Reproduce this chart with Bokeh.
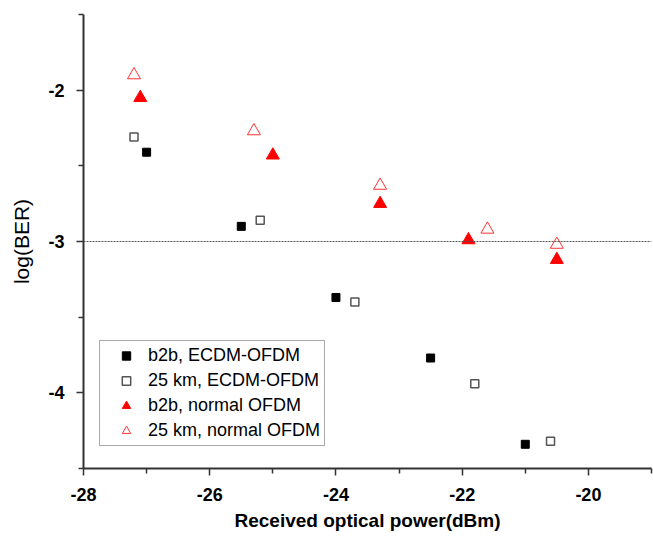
from bokeh.plotting import figure
from bokeh.models import Span, FixedTicker, Range1d, Legend, LegendItem
from bokeh.embed import file_html
from bokeh.resources import INLINE

# Data
x_b2b_ecdm = [-27.0, -25.5, -24.0, -22.5, -21.0]
y_b2b_ecdm = [-2.41, -2.90, -3.37, -3.77, -4.34]
x_25_ecdm = [-27.2, -25.2, -23.7, -21.8, -20.6]
y_25_ecdm = [-2.31, -2.86, -3.40, -3.94, -4.32]
x_b2b_norm = [-27.1, -25.0, -23.3, -21.9, -20.5]
y_b2b_norm = [-2.05, -2.43, -2.75, -2.99, -3.12]
x_25_norm = [-27.2, -25.3, -23.3, -21.6, -20.5]
y_25_norm = [-1.90, -2.27, -2.63, -2.92, -3.02]

labels = ["b2b, ECDM-OFDM", "25 km, ECDM-OFDM", "b2b, normal OFDM", "25 km, normal OFDM"]
x_ticks = [-28, -26, -24, -22, -20]
x_minor = [-27, -25, -23, -21, -19]
y_ticks = [-4, -3, -2]
y_minor = [-4.5, -3.5, -2.5, -1.5]
threshold = -3

p = figure(width=653, height=537, output_backend="svg", toolbar_location=None,
           x_range=Range1d(-28, -19), y_range=Range1d(-4.5, -1.5),
           min_border_left=83, min_border_top=14, min_border_right=2, min_border_bottom=69)
p.outline_line_color = None
p.grid.visible = False
p.background_fill_color = "white"
p.border_fill_color = "white"

p.xaxis.ticker = FixedTicker(ticks=x_ticks, minor_ticks=x_minor)
p.yaxis.ticker = FixedTicker(ticks=y_ticks, minor_ticks=y_minor)
p.xaxis.major_label_overrides = {t: str(t) for t in x_ticks}
p.yaxis.major_label_overrides = {t: str(t) for t in y_ticks}

for ax in (p.xaxis, p.yaxis):
    ax.axis_line_color = "#333333"
    ax.axis_line_width = 2
    ax.major_tick_line_color = "#333333"
    ax.minor_tick_line_color = "#333333"
    ax.major_tick_line_width = 1.5
    ax.minor_tick_line_width = 1.5
    ax.major_tick_out = 7
    ax.major_tick_in = 0
    ax.minor_tick_out = 5
    ax.minor_tick_in = 0
    ax.major_label_text_font = "Liberation Sans"
    ax.major_label_text_font_style = "bold"
    ax.major_label_text_font_size = "18px"
    ax.major_label_text_color = "black"
    ax.axis_label_text_font = "Liberation Sans"
    ax.axis_label_text_color = "black"

p.xaxis.major_label_standoff = 12
p.yaxis.major_label_standoff = 12
p.xaxis.axis_label = "Received optical power(dBm)"
p.xaxis.axis_label_text_font_style = "bold"
p.xaxis.axis_label_text_font_size = "19px"
p.xaxis.axis_label_standoff = 6
p.yaxis.axis_label = "log(BER)"
p.yaxis.axis_label_text_font_style = "normal"
p.yaxis.axis_label_text_font_size = "21px"
p.yaxis.axis_label_standoff = 12

p.add_layout(Span(location=threshold, dimension="width", line_color="#555555",
                  line_width=1, line_dash="2 1"))

r1 = p.scatter(x_b2b_ecdm, y_b2b_ecdm, marker="square", size=8,
               fill_color="black", line_color="black", line_width=1)
r2 = p.scatter(x_25_ecdm, y_25_ecdm, marker="square", size=8,
               fill_color="white", line_color="#555555", line_width=1.5)
r3 = p.scatter(x_b2b_norm, y_b2b_norm, marker="triangle", size=13,
               fill_color="red", line_color="red", line_width=1)
r4 = p.scatter(x_25_norm, y_25_norm, marker="triangle", size=13,
               fill_color="white", line_color="#ff3333", line_width=1)

legend = Legend(items=[LegendItem(label=labels[0], renderers=[r1]),
                       LegendItem(label=labels[1], renderers=[r2]),
                       LegendItem(label=labels[2], renderers=[r3]),
                       LegendItem(label=labels[3], renderers=[r4])],
                location=(16, 22), padding=4, spacing=4, margin=0,
                label_height=21, glyph_height=21, glyph_width=44, label_standoff=0,
                label_text_font="Liberation Sans", label_text_font_size="18px",
                label_text_color="black",
                border_line_color="#555555", border_line_width=1,
                background_fill_alpha=1)
p.add_layout(legend, "center")

open("out.html", "w").write(file_html(p, INLINE))
